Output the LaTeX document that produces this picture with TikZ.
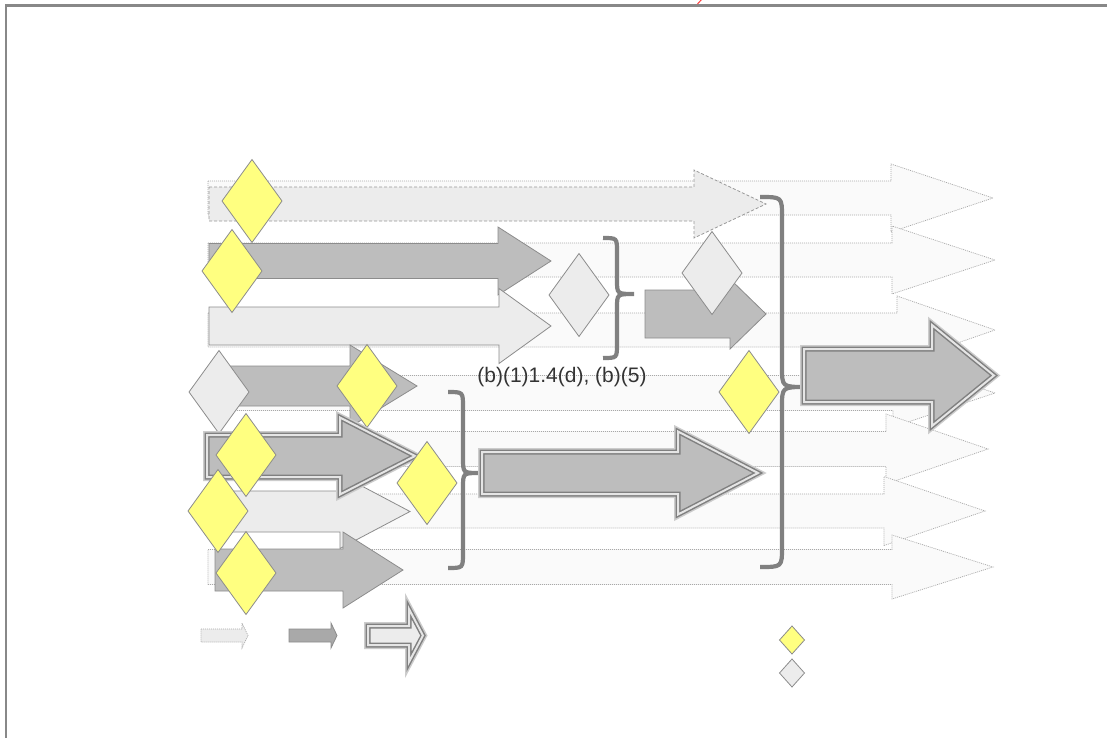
\documentclass[tikz,border=0pt]{standalone}
\usepackage{fontspec}
\setmainfont{Liberation Sans}
\definecolor{framec}{HTML}{888888}
\definecolor{lightf}{HTML}{ECECEC}
\definecolor{grayf}{HTML}{BDBDBD}
\definecolor{darkf}{HTML}{A9A9A9}
\definecolor{yel}{HTML}{FFFF80}
\definecolor{faintf}{HTML}{FAFAFA}
\definecolor{edgec}{HTML}{8C8C8C}
\definecolor{dotc}{HTML}{A8A8A8}
\definecolor{bracec}{HTML}{808080}
\tikzset{
  faintst/.style={fill=faintf, draw=dotc, line width=0.7bp, dash pattern=on 1bp off 1bp},
  dashst/.style={fill=lightf, draw=edgec!90, line width=0.8bp, dash pattern=on 3bp off 2bp},
  grayst/.style={fill=grayf, draw=edgec, line width=0.8bp},
  lightst/.style={fill=lightf, draw=edgec, line width=0.8bp},
  legdot/.style={fill=lightf, draw=dotc, line width=0.7bp, dash pattern=on 1bp off 1bp},
  legdark/.style={fill=darkf, draw=edgec, line width=0.8bp},
  bracest/.style={draw=bracec, line width=4.2bp},
}
% #1 style, #2 left x, #3 head base x, #4 tip x, #5 centre y, #6 shaft half, #7 head half
\newcommand\blockarr[7][]{\path[#1] (#2,#5-#6) -- (#3,#5-#6) -- (#3,#5-#7) -- (#4,#5) -- (#3,#5+#7) -- (#3,#5+#6) -- (#2,#5+#6) -- cycle;}
\newcommand\dblarr[7][grayf]{%
  \blockarr[draw=gray!40, line width=8bp]{#2}{#3}{#4}{#5}{#6}{#7}%
  \blockarr[fill=#1]{#2}{#3}{#4}{#5}{#6}{#7}%
  \blockarr[draw=black!50, double=white!80!gray, line width=1.5bp, double distance=2bp]{#2}{#3}{#4}{#5}{#6}{#7}}
% #1 fill, #2 x, #3 y, #4 half width, #5 half height
\newcommand\dia[5][yel]{\path[draw=edgec, line width=0.8bp, fill=#1] (#2-#4,#3) -- (#2,#3-#5) -- (#2+#4,#3) -- (#2,#3+#5) -- cycle;}
% #1 end x, #2 vertical x, #3 tip x, #4 top y, #5 tip y, #6 bottom y, #7 radius
\newcommand\mybrace[7]{\path[bracest] (#1,#4) .. controls (#2,#4) .. (#2,#4+#7) -- (#2,#5-#7) .. controls (#2,#5) .. (#3,#5) .. controls (#2,#5) .. (#2,#5+#7) -- (#2,#6-#7) .. controls (#2,#6) .. (#1,#6);}
\begin{document}
\begin{tikzpicture}[x=1bp,y=-1bp]
\useasboundingbox (0,0) rectangle (1107,738);
\clip (0,0) rectangle (1107,738);
\fill[white] (0,0) rectangle (1107,738);
\draw[framec, line width=2.3bp] (6.2,5.5) rectangle (1130,760);
\draw[red!75, line width=1bp] (697.5,4) -- (702,-1);

% faint background arrows
\blockarr[faintst]{208}{891}{993}{198}{17}{34}
\blockarr[faintst]{208}{892}{995}{260}{17}{34}
\blockarr[faintst]{208}{897}{995}{330}{17}{34}
\blockarr[faintst]{208}{893}{995}{393}{17.5}{34}
\blockarr[faintst]{207}{886}{988}{449}{17.5}{35}
\blockarr[faintst]{208}{884}{985}{511}{17}{34.5}
\blockarr[faintst]{208}{892}{993}{567}{17.5}{32}

% top group
\blockarr[dashst]{209}{694}{766}{204}{17}{34}
\dia{252}{201}{30}{41.5}
\blockarr[grayst]{209}{498}{551}{261}{17.5}{34}
\blockarr[lightst]{209}{499}{551}{326}{19}{37.5}
\dia{232}{271}{30}{41.5}
\dia[lightf]{579}{295}{30}{41.5}
\mybrace{603}{617}{634}{238}{294}{358}{14}
\blockarr[grayst]{645}{730}{766}{314}{24}{35}
\dia[lightf]{712}{273}{30}{41.5}

% lower left group
\blockarr[grayst]{215}{350}{417}{386}{20}{41}
\dia[lightf]{219}{392}{30}{41.5}
\dia{367}{386}{30}{41.5}
\blockarr[lightst]{215}{340}{410}{511.5}{20.5}{37}
\dblarr[grayf]{207}{340}{415}{456}{21}{38.5}
\dia{246}{455}{30}{41.5}
\blockarr[grayst]{215}{343}{403}{570}{21}{38}
\dia{218}{511}{30}{41.5}
\dia{246}{573}{30}{41.5}
\dia{427}{483}{30}{41.5}
\mybrace{448}{463}{479}{392}{473}{568}{15}
\dblarr[grayf]{482}{678}{758}{473}{21}{41.5}

% right part
\dia{749}{392}{30}{41.5}
\mybrace{760}{782}{806}{197}{387}{567}{20}
\dblarr[grayf]{804}{932}{994}{375.5}{26.5}{50.5}

\node[font=\fontsize{21bp}{24bp}\selectfont, text=black!80, inner sep=0pt] (lab) at (562,377) {(b)(1)1.4(d), (b)(5)};

% legend
\blockarr[legdot]{201}{242}{248}{635.5}{6.5}{12.5}
\blockarr[legdark]{289}{331}{337}{635.5}{6.5}{12.5}
\dblarr[lightf]{368}{409}{423}{635.5}{9.5}{26.5}
\dia{792}{640}{12.5}{14}
\dia[lightf]{792}{673}{12.5}{14}
\end{tikzpicture}
\end{document}
